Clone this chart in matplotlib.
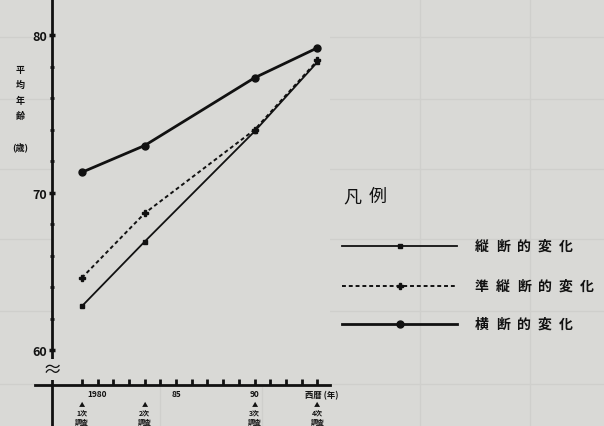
import matplotlib.pyplot as plt
from matplotlib.lines import Line2D

plt.rcParams['font.family'] = ['Noto Sans CJK JP', 'DejaVu Sans']

# survey years and average age per series
years = [1979, 1983, 1990, 1994]
survey_rounds = ["1次", "2次", "3次", "4次"]
cross = [71.3, 73.0, 77.3, 79.2]        # 横断的変化
quasi = [64.6, 68.7, 74.0, 78.4]        # 準縦断的変化
longit = [62.8, 66.9, 73.9, 78.3]       # 縦断的変化
names = ["縦断的変化", "準縦断的変化", "横断的変化"]
year_ticks = [1980, 1985, 1990]
year_labels = ["1980", "85", "90"]

bg = '#d9d9d6'
ink = '#111111'

def main():
    fig = plt.figure(figsize=(6.04, 4.27), dpi=100, facecolor=bg)
    ax = fig.add_axes([52/604, 41/427, (330-52)/604, (427-41)/427])
    ax.set_facecolor(bg)
    ax.set_xlim(1977.1, 1994.8)
    ax.set_ylim(57.8, 82.3)

    # faint paper grid
    for px in [160, 262, 420, 530]:
        fig.add_artist(Line2D([px/604, px/604], [0, 1], color='#cfcfcc', lw=1, zorder=0))
    for py in [38, 100, 170, 240, 312, 385]:
        fig.add_artist(Line2D([0, 1], [1 - py/427, 1 - py/427], color='#cfcfcc', lw=1, zorder=0))

    ax.plot(years, cross, color=ink, lw=2.0, marker='o', ms=5)
    ax.plot(years, quasi, color=ink, lw=1.4, ls=(0, (2, 1.5)), marker='P', ms=4)
    ax.plot(years, longit, color=ink, lw=1.3, marker='s', ms=3.5)

    for s in ax.spines.values():
        s.set_visible(False)
    # axes lines that cross each other
    ax.plot([-0.06, 1.0], [0, 0], transform=ax.transAxes, color=ink, lw=2, clip_on=False)
    ax.plot([0, 0], [-0.12, 1.0], transform=ax.transAxes, color=ink, lw=2, clip_on=False)
    ax.text(0.0, 58.8, "≈", ha='center', va='center', fontsize=14, color=ink,
            transform=ax.get_yaxis_transform(), bbox=dict(fc=bg, ec='none', pad=0))

    ax.set_yticks([60, 70, 80])
    ax.set_yticks(range(62, 82, 2), minor=True)
    ax.tick_params(axis='y', which='major', direction='inout', length=5, width=2.5,
                   labelsize=9, pad=1, colors=ink)
    ax.tick_params(axis='y', which='minor', direction='inout', length=3, width=2, colors=ink)
    for lab in ax.get_yticklabels():
        lab.set_fontweight('bold')

    ax.set_xticks(year_ticks)
    ax.set_xticklabels(year_labels)
    ax.set_xticks(range(1979, 1995), minor=True)
    ax.tick_params(axis='x', which='both', direction='in', length=4, width=2,
                   labelsize=6, pad=3, colors=ink)
    for lab in ax.get_xticklabels():
        lab.set_fontweight('bold')
    ax.annotate("西暦 (年)", (1994.3, 0), xycoords=('data', 'axes fraction'), xytext=(0, -4),
                textcoords='offset points', ha='center', va='top', fontsize=6,
                fontweight='bold', color=ink, annotation_clip=False)

    # survey markers under the axis
    for yr, rnd in zip(years, survey_rounds):
        for txt, off, fs in [("▲", -13.5, 4.5), (rnd, -19.5, 5), ("調査", -26, 5)]:
            ax.annotate(txt, (yr, 0), xycoords=('data', 'axes fraction'), xytext=(0, off),
                        textcoords='offset points', ha='center', va='center', fontsize=fs,
                        fontweight='bold', color=ink, annotation_clip=False)

    # vertical y label
    for i, ch in enumerate("平均年齢"):
        fig.text(20/604, 1 - (70 + i*15.5)/427, ch, ha='center', va='center',
                 fontsize=6.5, fontweight='bold', color=ink)
    fig.text(20/604, 1 - 147/427, "(歳)", ha='center', va='center',
             fontsize=6.5, fontweight='bold', color=ink)

    # legend
    for i, ch in enumerate("凡例"):
        fig.text((343 + i*26)/604, 1 - 197/427, ch, ha='left', va='center',
                 fontsize=13, color=ink)
    styles = [dict(lw=1.3, ls='-', marker='s', ms=3.5),
              dict(lw=1.4, ls=(0, (2, 1.5)), marker='P', ms=4),
              dict(lw=2.0, ls='-', marker='o', ms=5)]
    ys = [247, 287, 325]
    for nm, st, yy in zip(names, styles, ys):
        fy = 1 - yy/427
        fig.add_artist(Line2D([342/604, 457/604], [fy, fy], color=ink, lw=st['lw'], ls=st['ls']))
        fig.add_artist(Line2D([400/604], [fy], color=ink, marker=st['marker'], ms=st['ms'], lw=0))
        for i, ch in enumerate(nm):
            fig.text((475 + i*21)/604, fy, ch, ha='left', va='center', fontsize=10,
                     fontweight='bold', color=ink)

    fig.savefig("out.png", dpi=100, facecolor=bg)


if __name__ == "__main__":
    main()
